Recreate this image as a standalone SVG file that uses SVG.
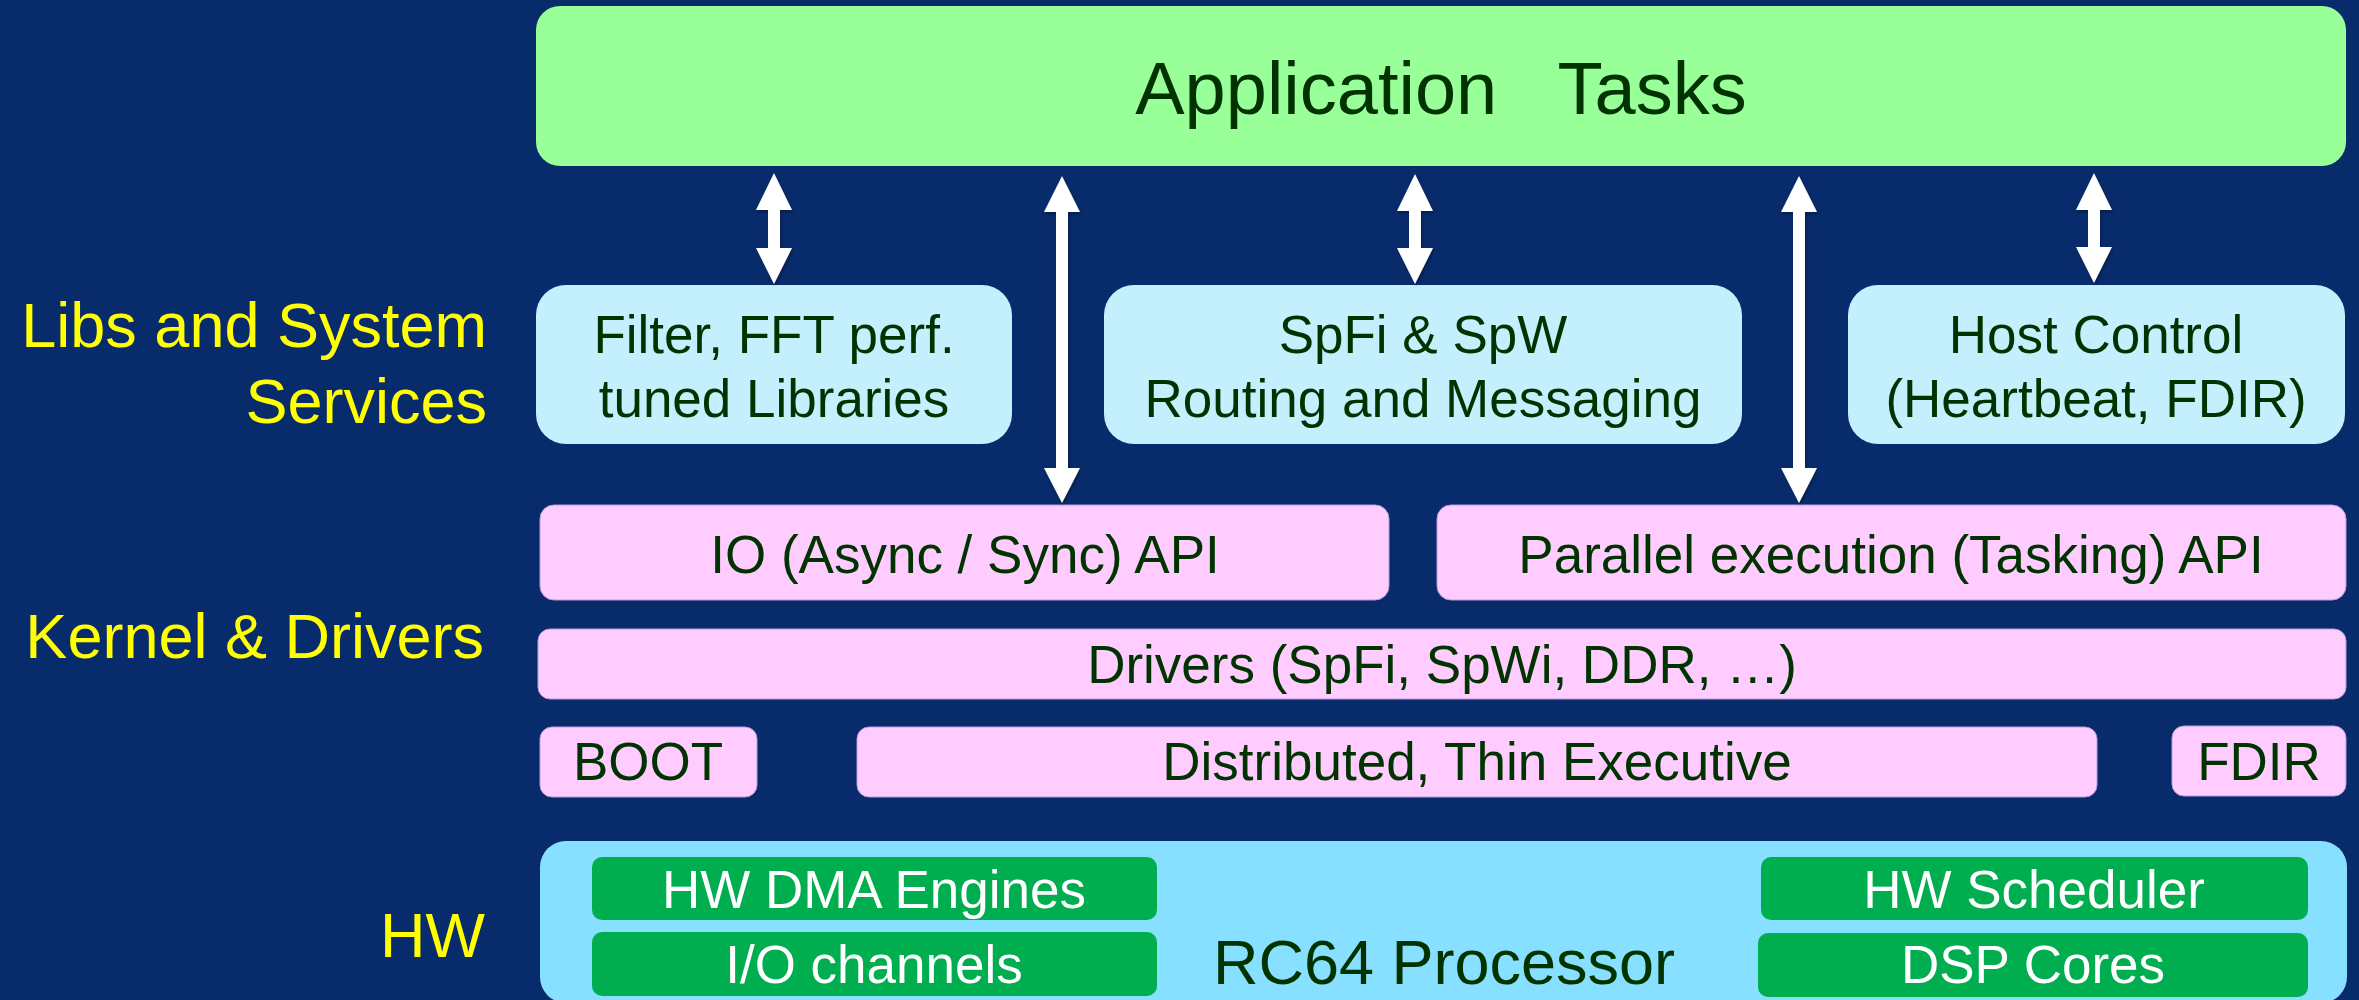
<svg xmlns="http://www.w3.org/2000/svg" width="2359" height="1000" viewBox="0 0 2359 1000">
<defs>
<style>
text{font-family:"Liberation Sans",Arial,sans-serif;text-anchor:middle}
.lbl{fill:#FFFF00;font-size:63px;text-anchor:end}
.dk{fill:#003300;font-size:53px}
.wt{fill:#FFFFFF;font-size:53px}
.app{fill:#99FF99}
.lib{fill:#C4F0FE}
.pk{fill:#FFCCFF;stroke:#B79CD8;stroke-width:1}
.hw{fill:#87E0FF}
.gr{fill:#00AE50}
.arr{fill:#FFFFFF;filter:url(#sh)}
</style>
<filter id="sh" x="-50%" y="-10%" width="200%" height="130%">
<feDropShadow dx="1" dy="2" stdDeviation="1.5" flood-color="#000000" flood-opacity="0.35"/>
</filter>
</defs>
<rect x="0" y="0" width="2359" height="1000" fill="#082B6B"/>

<g id="labels">
<text class="lbl" x="487" y="347">Libs and System</text>
<text class="lbl" x="487" y="423">Services</text>
<text class="lbl" x="484" y="658">Kernel &amp; Drivers</text>
<text class="lbl" x="485" y="957">HW</text>
</g>

<g id="app">
<rect class="app" x="536" y="6" width="1810" height="160" rx="24"/>
<text x="1441" y="114" style="fill:#003300;font-size:74px" xml:space="preserve">Application   Tasks</text>
</g>

<g id="filter">
<rect class="lib" x="536" y="285" width="476" height="159" rx="30"/>
<text class="dk" x="774" y="353">Filter, FFT perf.</text>
<text class="dk" x="774" y="417">tuned Libraries</text>
</g>
<g id="spfi">
<rect class="lib" x="1104" y="285" width="638" height="159" rx="30"/>
<text class="dk" x="1423" y="353">SpFi &amp; SpW</text>
<text class="dk" x="1423" y="417">Routing and Messaging</text>
</g>
<g id="host">
<rect class="lib" x="1848" y="285" width="497" height="159" rx="30"/>
<text class="dk" x="2096" y="353">Host Control</text>
<text class="dk" x="2096" y="417">(Heartbeat, FDIR)</text>
</g>

<g id="io">
<rect class="pk" x="540" y="505" width="849" height="95" rx="14"/>
<text class="dk" x="965" y="573">IO (Async / Sync) API</text>
</g>
<g id="parallel">
<rect class="pk" x="1437" y="505" width="909" height="95" rx="14"/>
<text class="dk" x="1891" y="573">Parallel execution (Tasking) API</text>
</g>
<g id="drivers">
<rect class="pk" x="538" y="629" width="1808" height="70" rx="12"/>
<text class="dk" x="1442" y="683">Drivers (SpFi, SpWi, DDR, …)</text>
</g>
<g id="boot">
<rect class="pk" x="540" y="727" width="217" height="70" rx="12"/>
<text class="dk" x="648" y="780">BOOT</text>
</g>
<g id="exec">
<rect class="pk" x="857" y="727" width="1240" height="70" rx="12"/>
<text class="dk" x="1477" y="780">Distributed, Thin Executive</text>
</g>
<g id="fdir">
<rect class="pk" x="2172" y="726" width="174" height="70" rx="12"/>
<text class="dk" x="2259" y="780">FDIR</text>
</g>

<g id="rc64">
<rect class="hw" x="540" y="841" width="1807" height="162" rx="26"/>
<text x="1444" y="984" style="fill:#003300;font-size:63px">RC64 Processor</text>
</g>
<g id="dma">
<rect class="gr" x="592" y="857" width="565" height="63" rx="10"/>
<text class="wt" x="874" y="908">HW DMA Engines</text>
</g>
<g id="iochan">
<rect class="gr" x="592" y="932" width="565" height="64" rx="10"/>
<text class="wt" x="874" y="983">I/O channels</text>
</g>
<g id="sched">
<rect class="gr" x="1761" y="857" width="547" height="63" rx="10"/>
<text class="wt" x="2034" y="908">HW Scheduler</text>
</g>
<g id="dsp">
<rect class="gr" x="1758" y="933" width="550" height="64" rx="10"/>
<text class="wt" x="2033" y="983">DSP Cores</text>
</g>

<g id="connectors">
<polygon class="arr" points="774,173 792,210 780,210 780,248 792,248 774,284 756,248 768,248 768,210 756,210"/>
<polygon class="arr" points="1415,174 1433,211 1421,211 1421,248 1433,248 1415,284 1397,248 1409,248 1409,211 1397,211"/>
<polygon class="arr" points="2094,173 2112,210 2100,210 2100,247 2112,247 2094,283 2076,247 2088,247 2088,210 2076,210"/>
<polygon class="arr" points="1062,176 1080,212 1068,212 1068,468 1080,468 1062,503 1044,468 1056,468 1056,212 1044,212"/>
<polygon class="arr" points="1799,176 1817,212 1805,212 1805,468 1817,468 1799,503 1781,468 1793,468 1793,212 1781,212"/>
</g>
</svg>
